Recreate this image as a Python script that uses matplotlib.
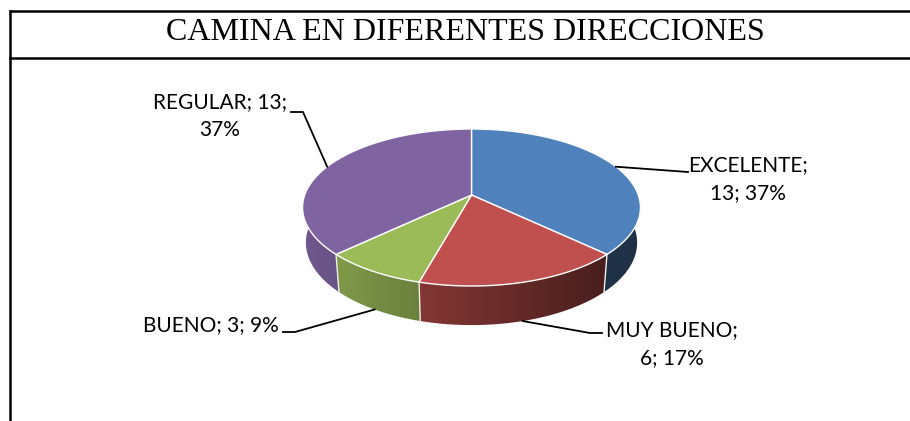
import numpy as np
import matplotlib
matplotlib.use("Agg")
import matplotlib.pyplot as plt
from matplotlib.patches import Polygon

# Datos de la gráfica
categorias = ["EXCELENTE", "MUY BUENO", "BUENO", "REGULAR"]
valores = [13, 6, 3, 13]
colores = ["#4F81BD", "#C0504D", "#9BBB59", "#8064A2"]
titulo = "CAMINA EN DIFERENTES DIRECCIONES"
# cuantas partes de la etiqueta van en la primera linea (0 = todo en una)
partes_linea1 = [1, 1, 0, 2]

# Posiciones de las etiquetas (centro del texto) y codo de la guia, en pixeles
pos_etiqueta = [(748, 179), (672, 344), (279, 325), (220, 116)]
alineacion = ["center", "center", "right", "center"]
codo_guia = [[(688, 172)], [(590, 333), (602, 333)], [(295, 332), (283, 332)],
             [(303, 112), (291, 112)]]

# Geometria del pastel 3D (perspectiva)
cx, cy = 471.5, 195.0
escala = 166.8
elev = np.radians(27.3)
dist = 5.58
grosor = 0.239


def proyectar(theta, z):
    X = np.cos(theta)
    Y = np.sin(theta)
    yup = Y * np.sin(elev) + z * np.cos(elev)
    prof = Y * np.cos(elev) - z * np.sin(elev)
    f = dist / (dist + prof)
    return cx + escala * X * f, cy - escala * yup * f


fig = plt.figure(figsize=(9.1, 4.21), dpi=100)
ax = fig.add_axes([0, 0, 1, 1])
ax.set_xlim(0, 910)
ax.set_ylim(421, 0)
ax.axis("off")

total = sum(valores)
acum = np.concatenate([[0], np.cumsum(valores)])
angulos = np.pi / 2 - 2 * np.pi * acum / total

# Paredes laterales con degradado (luz desde la izquierda)
xs_grad = np.linspace(290, 655, 400)
factor = np.clip(0.6 - 0.28 * (xs_grad - cx) / 170, 0.38, 0.9)
for i, color in enumerate(colores):
    t0, t1 = angulos[i], angulos[i + 1]
    # solo la parte frontal (sin(theta) < 0 aprox.)
    ts = np.linspace(t0, t1, 300)
    ts = ts[np.sin(ts) < 0.17]
    if len(ts) < 2:
        continue
    xa, ya = proyectar(ts, 0)
    xb, yb = proyectar(ts, -grosor)
    pts = list(zip(xa, ya)) + list(zip(xb[::-1], yb[::-1]))
    pared = Polygon(pts, closed=True, facecolor="none", edgecolor="none")
    ax.add_patch(pared)
    rgb = np.array(matplotlib.colors.to_rgb(color))
    img = np.clip(factor[None, :, None] * rgb[None, None, :], 0, 1)
    im = ax.imshow(img, extent=(290, 655, 340, 120), aspect="auto", interpolation="bilinear",
                   zorder=1)
    im.set_clip_path(pared)

# lineas blancas en las uniones visibles
for t in angulos[:-1]:
    if np.sin(t) < 0.1:
        x0, y0 = proyectar(t, 0)
        x1, y1 = proyectar(t, -grosor)
        ax.plot([x0, x1], [y0, y1], color="#eeeeee", lw=1.0, zorder=2)

# Caras superiores
for i, color in enumerate(colores):
    ts = np.linspace(angulos[i], angulos[i + 1], 200)
    xs, ys = proyectar(ts, 0)
    pts = [(cx, cy)] + list(zip(xs, ys))
    ax.add_patch(Polygon(pts, closed=True, facecolor=color, edgecolor="white", lw=1.0,
                         joinstyle="round", zorder=3))

# Etiquetas y guias
for i, cat in enumerate(categorias):
    pct = int(round(100 * valores[i] / total))
    partes = [cat + ";", f"{valores[i]};", f"{pct}%"]
    k = partes_linea1[i]
    if k == 0:
        texto = " ".join(partes)
    else:
        texto = " ".join(partes[:k]) + "\n" + " ".join(partes[k:])
    media = (angulos[i] + angulos[i + 1]) / 2
    z = 0 if np.sin(media) > 0 else -grosor
    ancla = proyectar(media, z)
    guia = [ancla] + codo_guia[i]
    ax.plot([p[0] for p in guia], [p[1] for p in guia], color="black", lw=1.3, zorder=4)
    ax.text(pos_etiqueta[i][0], pos_etiqueta[i][1], texto, ha=alineacion[i], va="center",
            multialignment="center", fontsize=15, family="Lato", linespacing=1.45)

# Titulo y marco
ax.text(465, 33, titulo, ha="center", va="center", fontsize=23, family="Liberation Serif")
ax.plot([10, 910], [11, 11], color="black", lw=1.8)
ax.plot([10, 910], [58, 58], color="black", lw=1.8)
ax.plot([10, 10], [11, 421], color="black", lw=1.8)

fig.savefig("out.png", dpi=100)
